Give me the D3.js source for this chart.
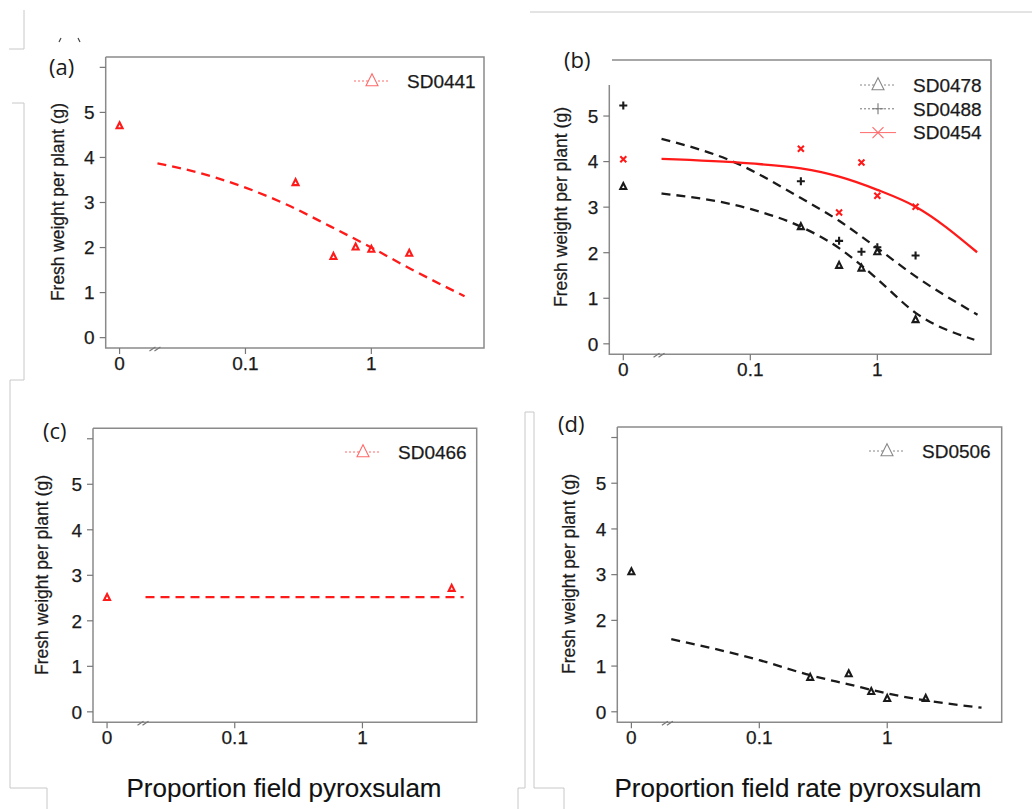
<!DOCTYPE html>
<meta charset="utf-8">
<html>
<head>
<title>Fresh weight per plant vs pyroxsulam</title>
<style>
  body{margin:0;background:#fff}
  text{font-family:"Liberation Sans", Arial, sans-serif; fill:#1a1a1a; stroke:#1a1a1a; stroke-width:0.25px}
  .plab{font-family:"Open Sans", "Liberation Sans", sans-serif}
</style>
<script src="https://cdn.jsdelivr.net/npm/d3@7"></script>
</head>
<body>
<script>
// doses as proportion of field rate (0 = untreated, drawn at the axis break)
var doses = [0, 0.25, 0.5, 0.75, 1, 2]
var dosesC = [0, 5]

// observed fresh weight per plant (g)
var sd0441 = [4.70, 3.44, 1.80, 2.01, 1.96, 1.87]
var sd0478 = [3.45, 2.57, 1.72, 1.66, 2.02, 0.53]
var sd0488 = [5.23, 3.57, 2.26, 2.02, 2.12, 1.94]
var sd0454 = [4.05, 4.28, 2.88, 3.98, 3.25, 3.01]
var sd0466 = [2.51, 2.71]
var sd0506 = [3.06, 0.75, 0.83, 0.44, 0.29, 0.29]

// fitted curves
var fit0441_x = [0.02, 0.034, 0.1, 0.214, 0.472, 1, 2.04, 5.5]
var fit0441_y = [3.87, 3.73, 3.33, 2.95, 2.47, 2.00, 1.53, 0.92]
var fit0488_x = [0.02, 0.073, 0.25, 0.5, 1, 2, 6.15]
var fit0488_y = [4.50, 4.00, 3.20, 2.70, 2.10, 1.48, 0.64]
var fit0478_x = [0.02, 0.1, 0.25, 0.5, 0.75, 1, 2, 5.8]
var fit0478_y = [3.30, 2.96, 2.57, 2.10, 1.72, 1.42, 0.68, 0.09]
var fit0454_x = [0.02, 0.1, 0.25, 0.5, 1, 2, 6.1]
var fit0454_y = [4.06, 3.96, 3.85, 3.67, 3.38, 3.01, 2.01]
var fit0466_x = [0.02, 6.2]
var fit0466_y = [2.52, 2.52]
var fit0506_x = [0.0205, 0.1, 0.25, 0.5, 1, 2, 5.46]
var fit0506_y = [1.59, 1.13, 0.80, 0.60, 0.40, 0.25, 0.09]

// axes
var xTicks = [0, 0.1, 1]
var xTickLabels = ["0", "0.1", "1"]
var yTicks = [0, 1, 2, 3, 4, 5, 6]
var yTickLabels = ["0", "1", "2", "3", "4", "5", ""]
var breakAt = 0.02
var zeroAt = 0.01

var panelLabels = ["(a)", "(b)", "(c)", "(d)"]
var yTitle = "Fresh weight per plant (g)"
var xTitles = ["Proportion field pyroxsulam", "Proportion field rate pyroxsulam"]

var RED = "#ff1a1a", BLACK = "#1a1a1a"

var W = 1032, H = 809
var svg = d3.select("body").append("svg").attr("width", W).attr("height", H)

// leftovers of the pasted layout (grey frame pieces)
var frame = [
  [[9,49],[24,49],[24,10]],
  [[12,103],[24,103],[24,380],[10,380],[10,788],[47,788],[47,809]],
  [[518,809],[518,788],[525,788],[525,412],[534,412],[534,788],[564,788],[564,809]],
  [[530,12],[1032,12]]
]
svg.selectAll("path.frame").data(frame).enter().append("path")
  .attr("class", "frame")
  .attr("d", d => d3.line()(d))
  .attr("fill", "none").attr("stroke", "#c8c8c8").attr("stroke-width", 1)
svg.append("path").attr("d", "M59,42L61,38M78,38L80,42")
  .attr("stroke", "#444").attr("stroke-width", 1.2)

function tri(s){ return "M0," + (-s*0.6) + "L" + (s*0.5) + "," + (s*0.4) + "L" + (-s*0.5) + "," + (s*0.4) + "Z" }
function plus(s){ return "M" + (-s/2) + ",0H" + (s/2) + "M0," + (-s/2) + "V" + (s/2) }
function cross(s){ return "M" + (-s/2) + "," + (-s/2) + "L" + (s/2) + "," + (s/2) + "M" + (-s/2) + "," + (s/2) + "L" + (s/2) + "," + (-s/2) }
var shapes = {tri: tri, plus: plus, cross: cross}
var markSize = {tri: 6, plus: 8, cross: 6}

var panels = [
  {label: panelLabels[0], labelXY: [49, 75], box: [105.7, 57, 484, 348], leftTop: 57, topFrom: 105.7,
   ylab: [64, 202, 198],
   series: [{x: doses, y: sd0441, shape: "tri", color: RED}],
   fits: [{x: fit0441_x, y: fit0441_y, color: RED, dash: "9,6"}],
   legend: {x: 354, y: 81, items: [{name: "SD0441", shape: "tri", color: "#ff6a6a", dash: "2,2"}]}},
  {label: panelLabels[1], labelXY: [564, 68], box: [609.3, 60, 991, 354.3], leftTop: 85, topFrom: 612,
   ylab: [567, 207, 200],
   series: [{x: doses, y: sd0478, shape: "tri", color: BLACK},
            {x: doses, y: sd0488, shape: "plus", color: BLACK},
            {x: doses, y: sd0454, shape: "cross", color: RED}],
   fits: [{x: fit0488_x, y: fit0488_y, color: BLACK, dash: "9,6"},
          {x: fit0478_x, y: fit0478_y, color: BLACK, dash: "9,6"},
          {x: fit0454_x, y: fit0454_y, color: RED, dash: null}],
   legend: {x: 860, y: 85, items: [{name: "SD0478", shape: "tri", color: "#888", dash: "2,2"},
                                    {name: "SD0488", shape: "plus", color: "#777", dash: "2,2"},
                                    {name: "SD0454", shape: "cross", color: "#ff6a6a", dash: null}]}},
  {label: panelLabels[2], labelXY: [43, 439], box: [93, 428.3, 476.7, 722.3], leftTop: 428.3, topFrom: 93,
   ylab: [48, 575, 200],
   series: [{x: dosesC, y: sd0466, shape: "tri", color: RED}],
   fits: [{x: fit0466_x, y: fit0466_y, color: RED, dash: "9,6"}],
   legend: {x: 345, y: 452, items: [{name: "SD0466", shape: "tri", color: "#ff6a6a", dash: "2,2"}]}},
  {label: panelLabels[3], labelXY: [558, 432], box: [617.3, 427, 1001.7, 722.3], leftTop: 427, topFrom: 617.3,
   ylab: [575, 574, 200],
   series: [{x: doses, y: sd0506, shape: "tri", color: BLACK}],
   fits: [{x: fit0506_x, y: fit0506_y, color: BLACK, dash: "9,6"}],
   legend: {x: 869, y: 451, items: [{name: "SD0506", shape: "tri", color: "#888", dash: "2,2"}]}}
]

panels.forEach(function(p){
  var L = p.box[0], T = p.box[1], R = p.box[2], B = p.box[3]
  var x = d3.scaleLog().domain([0.00776, 7.85]).range([L, R])
  var y = d3.scaleLinear().domain([-0.23, 6.23]).range([B, T])
  var xv = d => d === 0 ? zeroAt : d
  var g = svg.append("g")

  // box (panel b is cut at the top-left in the source)
  g.append("path")
    .attr("d", "M" + p.topFrom + "," + T + "H" + R + "V" + B + "H" + L + "V" + p.leftTop)
    .attr("fill", "none").attr("stroke", "#8a8a8a").attr("stroke-width", 1.5)

  // y axis
  var yt = yTicks.filter(v => y(v) >= p.leftTop - 0.5)
  g.selectAll("line.yt").data(yt).enter().append("line")
    .attr("x1", L - 6).attr("x2", L).attr("y1", d => y(d)).attr("y2", d => y(d))
    .attr("stroke", "#777").attr("stroke-width", 1.2)
  g.selectAll("text.yt").data(yt).enter().append("text")
    .attr("x", L - 11).attr("y", d => y(d)).attr("dy", "0.36em")
    .attr("text-anchor", "end").style("font-size", "19px")
    .text(d => yTickLabels[yTicks.indexOf(d)])

  // x axis
  g.selectAll("line.xt").data(xTicks).enter().append("line")
    .attr("x1", d => x(xv(d))).attr("x2", d => x(xv(d))).attr("y1", B).attr("y2", B + 6)
    .attr("stroke", "#777").attr("stroke-width", 1.2)
  g.selectAll("text.xt").data(xTicks).enter().append("text")
    .attr("x", d => x(xv(d))).attr("y", B + 22)
    .attr("text-anchor", "middle").style("font-size", "19px")
    .text((d, i) => xTickLabels[i])

  // axis break
  var bx = x(breakAt)
  g.append("path")
    .attr("d", "M" + (bx - 8) + "," + (B + 3) + "L" + (bx - 2) + "," + (B - 1) + "M" + (bx - 3) + "," + (B + 3) + "L" + (bx + 3) + "," + (B - 1))
    .attr("stroke", "#777").attr("stroke-width", 1.2)

  // titles
  g.append("text").attr("class", "plab")
    .attr("x", p.labelXY[0]).attr("y", p.labelXY[1])
    .style("font-size", "22px").style("stroke-width", 0).text(p.label)
  g.append("text")
    .attr("transform", "translate(" + p.ylab[0] + "," + p.ylab[1] + ") rotate(-90)")
    .attr("text-anchor", "middle").style("font-size", "19px")
    .attr("textLength", p.ylab[2]).attr("lengthAdjust", "spacingAndGlyphs")
    .text(yTitle)

  // fitted curves
  var line = d3.line().x(d => x(d[0])).y(d => y(d[1])).curve(d3.curveMonotoneX)
  p.fits.forEach(function(f){
    g.append("path")
      .attr("d", line(d3.zip(f.x, f.y)))
      .attr("fill", "none").attr("stroke", f.color).attr("stroke-width", 2.3)
      .attr("stroke-dasharray", f.dash)
  })

  // observations
  p.series.forEach(function(s){
    g.selectAll(null).data(d3.zip(s.x, s.y)).enter().append("path")
      .attr("transform", d => "translate(" + x(xv(d[0])) + "," + y(d[1]) + ")")
      .attr("d", shapes[s.shape](markSize[s.shape]))
      .attr("fill", "none").attr("stroke", s.color).attr("stroke-width", 2.1)
  })

  // legend
  p.legend.items.forEach(function(it, i){
    var ly = p.legend.y + i * 23.8
    g.append("line")
      .attr("x1", p.legend.x).attr("x2", p.legend.x + 36).attr("y1", ly).attr("y2", ly)
      .attr("stroke", it.color).attr("stroke-width", 1).attr("stroke-dasharray", it.dash)
    g.append("path")
      .attr("transform", "translate(" + (p.legend.x + 18) + "," + ly + ")")
      .attr("d", shapes[it.shape](it.shape === "tri" ? 12 : 11))
      .attr("fill", "#fff").attr("stroke", it.color).attr("stroke-width", 1.1)
    g.append("text")
      .attr("x", p.legend.x + 53).attr("y", ly).attr("dy", "0.36em")
      .style("font-size", "19px").text(it.name)
  })
})

// x-axis titles under the bottom row
svg.selectAll("text.xtitle").data(xTitles).enter().append("text")
  .attr("class", "xtitle")
  .attr("x", (d, i) => i === 0 ? 284 : 798)
  .attr("y", 797)
  .attr("text-anchor", "middle").style("font-size", "26px").style("stroke-width", 0.15)
  .style("fill", "#111")
  .text(d => d)
</script>
</body>
</html>
